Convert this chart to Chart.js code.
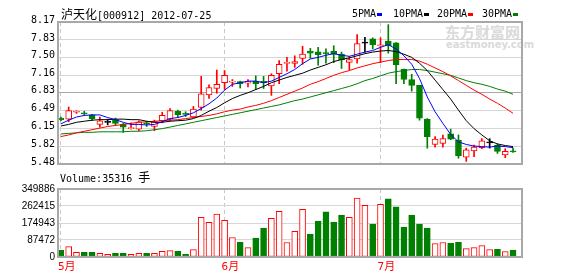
<!DOCTYPE html>
<html><head><meta charset="utf-8">
<script src="https://cdn.jsdelivr.net/npm/chart.js@4.4.1/dist/chart.umd.min.js"></script>
<style>
html,body{margin:0;padding:0;background:#fff;width:578px;height:276px;overflow:hidden;}
#wrap{position:relative;width:578px;height:276px;}
canvas{position:absolute;left:0;}
.t{position:absolute;white-space:nowrap;font-family:"DejaVu Sans Mono",monospace;font-size:10px;color:#000;line-height:12px;}
.cjk{font-family:"Noto Sans CJK SC";font-size:12px;}
.mk{position:absolute;width:5px;height:3px;}
.wm{position:absolute;color:#dadada;font-weight:bold;white-space:nowrap;}
</style></head>
<body><div id="wrap">
<div class="wm" style="left:445px;top:24px;font-size:15px;line-height:16px;font-family:'Noto Sans CJK SC';">东方财富网</div>
<div class="wm" style="left:446px;top:40px;font-size:10px;line-height:10px;font-family:'DejaVu Sans';">eastmoney.com</div>
<canvas id="pc" width="578" height="176" style="top:0"></canvas>
<canvas id="vc" width="578" height="96" style="top:180px"></canvas>
<div class="t" id="title" style="left:61px;top:8px;"></div>
<div id="legend"></div>
<div class="t" id="volLabel" style="left:60px;top:171px;"></div>
</div>
<script>
// ---- data ----
const stockName = "泸天化";
const stockCode = "[000912]";
const chartDate = "2012-07-25";
const monthStarts = [0, 21, 41];
const monthLabels = ["5月", "6月", "7月"];
const priceTicks = [5.48, 5.82, 6.15, 6.49, 6.83, 7.16, 7.50, 7.83, 8.17];
const volumeTicks = [0, 87472, 174943, 262415, 349886];

const open  = [6.35,6.33,6.46,6.45,6.41,6.23,6.27,6.32,6.23,6.15,6.14,6.26,6.19,6.30,6.33,6.48,6.44,6.37,6.55,6.79,6.91,7.02,7.03,7.04,7.01,7.05,7.045,6.96,7.19,7.385,7.385,7.48,7.62,7.605,7.59,7.62,7.56,7.405,7.47,7.77,7.85,7.72,7.81,7.775,7.275,7.08,6.97,6.33,5.85,5.87,6.05,5.93,5.61,5.73,5.79,5.88,5.835,5.65,5.73];
const high  = [6.37,6.56,6.49,6.48,6.42,6.37,6.33,6.35,6.25,6.26,6.30,6.29,6.31,6.46,6.53,6.50,6.47,6.57,7.14,6.98,7.26,7.25,7.08,7.05,7.08,7.15,7.14,7.19,7.44,7.50,7.53,7.71,7.67,7.69,7.66,7.72,7.60,7.52,7.93,7.88,7.87,7.87,8.12,7.78,7.28,7.18,6.97,6.34,6.00,6.03,6.14,6.03,5.78,5.84,5.96,5.96,5.86,5.77,5.78];
const low   = [6.30,6.28,6.44,6.40,6.30,6.18,6.22,6.21,6.08,6.14,6.11,6.19,6.11,6.26,6.30,6.36,6.38,6.36,6.50,6.72,6.82,6.89,6.95,6.92,6.94,6.89,6.91,6.78,7.00,7.24,7.31,7.37,7.48,7.35,7.39,7.40,7.29,7.26,7.39,7.60,7.66,7.40,7.58,7.00,7.00,6.86,6.31,5.78,5.80,5.80,5.94,5.59,5.53,5.62,5.77,5.78,5.68,5.60,5.70];
const close = [6.32,6.49,6.48,6.43,6.34,6.30,6.27,6.25,6.18,6.17,6.28,6.24,6.28,6.40,6.49,6.41,6.42,6.52,6.81,6.93,6.99,7.16,7.05,7.00,7.04,7.00,7.02,7.16,7.37,7.40,7.42,7.56,7.58,7.55,7.57,7.56,7.45,7.46,7.76,7.77,7.74,7.73,7.72,7.36,7.08,6.97,6.35,6.00,5.95,5.96,5.95,5.64,5.75,5.80,5.92,5.88,5.72,5.72,5.71];
const volume = [34600,53600,24200,24200,24200,19000,13800,19000,19000,13800,19000,19000,19000,29400,32900,29400,13800,38100,204000,178000,221000,188600,100300,76100,48400,96900,148800,199000,235300,74400,131500,245700,117600,185100,231800,180000,216300,204100,302800,266400,169500,271600,299300,257800,154000,216300,169500,148800,69200,74400,70900,76100,43300,48400,58800,38100,39800,27700,35316];
const ma5  = [6.24,6.31,6.37,6.40,6.41,6.41,6.36,6.32,6.27,6.23,6.23,6.22,6.23,6.28,6.34,6.36,6.40,6.45,6.53,6.62,6.73,6.88,6.99,7.02,7.05,7.05,7.02,7.05,7.12,7.19,7.27,7.38,7.47,7.50,7.54,7.57,7.54,7.52,7.56,7.60,7.63,7.69,7.74,7.66,7.53,7.37,7.10,6.75,6.47,6.25,6.04,5.90,5.85,5.82,5.81,5.80,5.82,5.81,5.79];
const ma10 = [6.20,6.23,6.27,6.29,6.31,6.32,6.32,6.33,6.33,6.32,6.32,6.29,6.27,6.27,6.29,6.30,6.31,6.34,6.40,6.48,6.55,6.64,6.72,6.78,6.83,6.89,6.95,7.02,7.07,7.12,7.16,7.20,7.26,7.31,7.36,7.42,7.46,7.49,7.53,7.57,7.60,7.62,7.63,7.61,7.56,7.50,7.39,7.25,7.07,6.89,6.71,6.50,6.30,6.15,6.03,5.92,5.86,5.83,5.81];
const ma20 = [6.00,6.03,6.07,6.10,6.13,6.16,6.19,6.21,6.23,6.25,6.27,6.28,6.29,6.30,6.31,6.32,6.34,6.36,6.38,6.40,6.43,6.47,6.50,6.52,6.56,6.59,6.63,6.68,6.74,6.80,6.86,6.92,6.99,7.04,7.10,7.16,7.21,7.25,7.30,7.34,7.38,7.41,7.44,7.46,7.46,7.46,7.43,7.37,7.30,7.23,7.15,7.06,6.97,6.88,6.80,6.71,6.63,6.54,6.44];
const ma30 = [6.05,6.06,6.07,6.08,6.08,6.09,6.09,6.09,6.09,6.10,6.10,6.11,6.13,6.15,6.18,6.21,6.24,6.27,6.30,6.33,6.36,6.39,6.42,6.45,6.48,6.51,6.54,6.57,6.60,6.64,6.68,6.71,6.75,6.79,6.83,6.87,6.91,6.95,7.00,7.06,7.10,7.15,7.20,7.23,7.25,7.27,7.27,7.25,7.22,7.19,7.16,7.11,7.06,7.02,6.99,6.95,6.90,6.86,6.80];
const maNames = ["5PMA", "10PMA", "20PMA", "30PMA"];

// ---- styles ----
const RED = "#ff0000", GREEN = "#008000", BLUE = "#0000ff", BLACK = "#000000";
const maColors = [BLUE, BLACK, RED, GREEN];
const N = close.length;
const idx = close.map((_, i) => i);
const X_MIN = -0.37, X_MAX = 59.15;
const candleColor = i => close[i] > open[i] ? RED : (close[i] < open[i] ? GREEN : BLACK);
const bodyFill = i => close[i] > open[i] ? "#ffffff" : candleColor(i);
const upDay = i => close[i] >= open[i];

// html texts
document.getElementById("title").innerHTML = '<span class="cjk">' + stockName + '</span>' + stockCode + ' ' + chartDate;
document.getElementById("volLabel").innerHTML = 'Volume:' + volume[N - 1] + ' <span class="cjk">手</span>';
const legendX = [352, 393, 437, 482];
const lg = document.getElementById("legend");
maNames.forEach((n, k) => {
  const d = document.createElement("div");
  d.className = "t"; d.style.left = legendX[k] + "px"; d.style.top = "8px"; d.textContent = n;
  lg.appendChild(d);
  const m = document.createElement("div");
  m.className = "mk"; m.style.background = maColors[k];
  m.style.left = (legendX[k] + n.length * 6 + 1) + "px"; m.style.top = "13px";
  lg.appendChild(m);
});

const boxPlugin = {
  id: "box",
  afterDraw(c) {
    const a = c.chartArea, ctx = c.ctx;
    ctx.save(); ctx.strokeStyle = "#a8a8a8"; ctx.lineWidth = 2;
    ctx.strokeRect(a.left, a.top, a.right - a.left, a.bottom - a.top);
    ctx.restore();
  }
};

const xCommon = (showLabels) => ({
  type: "linear", min: X_MIN, max: X_MAX, offset: false,
  afterBuildTicks: s => { s.ticks = monthStarts.map(v => ({ value: v })); },
  grid: { color: "#c8c8c8", drawTicks: false, lineWidth: 1, offset: false },
  border: { display: false, dash: [4, 3] },
  ticks: showLabels ? {
    display: true, color: RED, align: "start", labelOffset: -3, padding: 4, maxRotation: 0, autoSkip: false,
    font: { family: "'DejaVu Sans Mono', 'Noto Sans CJK SC'", size: 11 },
    callback: v => monthLabels[monthStarts.indexOf(v)] || ""
  } : { display: false },
  afterFit: s => { s.height = showLabels ? 19 : 0; }
});

Chart.defaults.animation = false;

new Chart(document.getElementById("pc"), {
  type: "bar",
  data: {
    datasets: [
      { type: "line", order: 0, data: idx.map(i => ({ x: i, y: ma5[i] })), borderColor: BLUE, borderWidth: 1, pointRadius: 0, tension: 0 },
      { type: "line", order: 0, data: idx.map(i => ({ x: i, y: ma10[i] })), borderColor: BLACK, borderWidth: 1, pointRadius: 0, tension: 0 },
      { type: "line", order: 0, data: idx.map(i => ({ x: i, y: ma20[i] })), borderColor: RED, borderWidth: 1, pointRadius: 0, tension: 0 },
      { type: "line", order: 0, data: idx.map(i => ({ x: i, y: ma30[i] })), borderColor: GREEN, borderWidth: 1, pointRadius: 0, tension: 0 },
      { type: "bar", order: 2, grouped: false, barThickness: 6, minBarLength: 1,
        data: idx.map(i => ({ x: i, y: [open[i], close[i]] })),
        backgroundColor: idx.map(bodyFill), borderColor: idx.map(candleColor), borderWidth: 1, borderSkipped: false },
      { type: "bar", order: 3, grouped: false, barThickness: 1,
        data: idx.map(i => ({ x: i, y: [low[i], high[i]] })),
        backgroundColor: idx.map(candleColor), borderWidth: 0 }
    ]
  },
  options: {
    responsive: false, devicePixelRatio: 1, animation: false,
    layout: { padding: { top: 22, right: 56, bottom: 12, left: 0 } },
    plugins: { legend: { display: false }, tooltip: { enabled: false } },
    scales: {
      x: xCommon(false),
      y: {
        min: priceTicks[0], max: priceTicks[priceTicks.length - 1],
        afterBuildTicks: s => { s.ticks = priceTicks.map(v => ({ value: v })); },
        afterFit: s => { s.width = 58; },
        grid: { drawTicks: false, color: c => (c.tick && c.tick.value === priceTicks[4]) ? "#a8a8a8" : "#d6d6d6" },
        border: { display: false },
        ticks: { color: "#000", padding: 3, labelOffset: -2, font: { family: "'DejaVu Sans Mono'", size: 10 },
          callback: v => Number(v).toFixed(2) }
      }
    }
  },
  plugins: [boxPlugin]
});

new Chart(document.getElementById("vc"), {
  type: "bar",
  data: {
    datasets: [{
      grouped: false, barThickness: 6,
      data: idx.map(i => ({ x: i, y: volume[i] })),
      backgroundColor: idx.map(i => upDay(i) ? "#ffffff" : GREEN),
      borderColor: idx.map(i => upDay(i) ? RED : GREEN),
      borderWidth: 1, borderSkipped: false
    }]
  },
  options: {
    responsive: false, devicePixelRatio: 1, animation: false,
    layout: { padding: { top: 9, right: 56, bottom: 0, left: 0 } },
    plugins: { legend: { display: false }, tooltip: { enabled: false } },
    scales: {
      x: xCommon(true),
      y: {
        min: 0, max: volumeTicks[volumeTicks.length - 1],
        afterBuildTicks: s => { s.ticks = volumeTicks.map(v => ({ value: v })); },
        afterFit: s => { s.width = 58; },
        grid: { drawTicks: false, color: "#d6d6d6" },
        border: { display: false },
        ticks: { color: "#000", padding: 3, font: { family: "'Liberation Sans'", size: 10 },
          callback: v => String(v) }
      }
    }
  },
  plugins: [boxPlugin]
});
</script>
</body></html>
